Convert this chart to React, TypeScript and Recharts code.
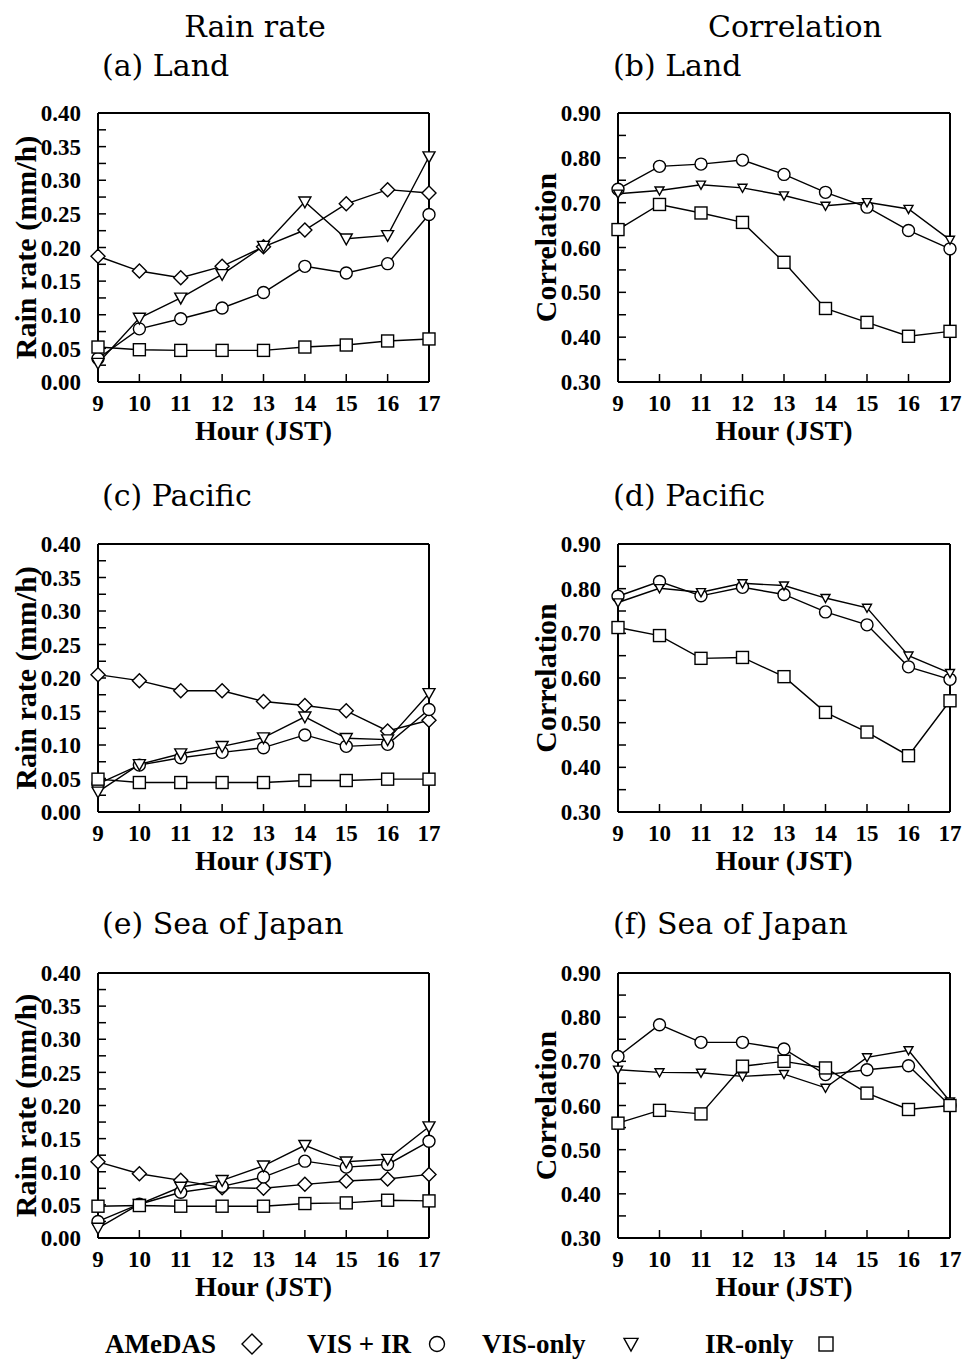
import { LineChart, Line, XAxis, YAxis, Label } from "recharts";

const HOURS = [9, 10, 11, 12, 13, 14, 15, 16, 17];
const RATE_TICKS = [0, 0.025, 0.05, 0.075, 0.1, 0.125, 0.15, 0.175, 0.2, 0.225, 0.25, 0.275, 0.3, 0.325, 0.35, 0.375, 0.4];
const CORR_TICKS = [0.3, 0.35, 0.4, 0.45, 0.5, 0.55, 0.6, 0.65, 0.7, 0.75, 0.8, 0.85, 0.9];

// (a) Land, rain rate (mm/h)
const LAND_RATE_AMEDAS = [0.187, 0.165, 0.155, 0.172, 0.201, 0.226, 0.265, 0.286, 0.281];
const LAND_RATE_VISIR = [0.035, 0.079, 0.094, 0.11, 0.133, 0.172, 0.162, 0.176, 0.249];
const LAND_RATE_VIS = [0.028, 0.095, 0.125, 0.16, 0.202, 0.268, 0.213, 0.218, 0.335];
const LAND_RATE_IR = [0.052, 0.048, 0.047, 0.047, 0.047, 0.052, 0.055, 0.061, 0.064];

// (b) Land, correlation
const LAND_CORR_VISIR = [0.73, 0.781, 0.786, 0.795, 0.763, 0.723, 0.69, 0.638, 0.597];
const LAND_CORR_VIS = [0.72, 0.727, 0.74, 0.733, 0.716, 0.693, 0.701, 0.686, 0.617];
const LAND_CORR_IR = [0.64, 0.696, 0.677, 0.656, 0.567, 0.464, 0.433, 0.402, 0.413];

// (c) Pacific, rain rate
const PAC_RATE_AMEDAS = [0.205, 0.196, 0.181, 0.181, 0.165, 0.159, 0.151, 0.121, 0.137];
const PAC_RATE_VISIR = [0.042, 0.07, 0.081, 0.089, 0.096, 0.115, 0.098, 0.101, 0.153];
const PAC_RATE_VIS = [0.03, 0.071, 0.087, 0.098, 0.111, 0.142, 0.11, 0.108, 0.177];
const PAC_RATE_IR = [0.049, 0.044, 0.044, 0.044, 0.044, 0.047, 0.047, 0.049, 0.049];

// (d) Pacific, correlation
const PAC_CORR_VISIR = [0.783, 0.816, 0.784, 0.803, 0.787, 0.748, 0.719, 0.625, 0.597];
const PAC_CORR_VIS = [0.769, 0.801, 0.792, 0.812, 0.807, 0.779, 0.757, 0.65, 0.611];
const PAC_CORR_IR = [0.713, 0.695, 0.644, 0.646, 0.603, 0.523, 0.479, 0.426, 0.549];

// (e) Sea of Japan, rain rate
const SOJ_RATE_AMEDAS = [0.115, 0.097, 0.087, 0.076, 0.075, 0.081, 0.086, 0.089, 0.096];
const SOJ_RATE_VISIR = [0.025, 0.051, 0.069, 0.078, 0.092, 0.116, 0.107, 0.111, 0.146];
const SOJ_RATE_VIS = [0.015, 0.051, 0.077, 0.087, 0.109, 0.14, 0.115, 0.119, 0.168];
const SOJ_RATE_IR = [0.048, 0.049, 0.048, 0.048, 0.048, 0.052, 0.053, 0.057, 0.056];

// (f) Sea of Japan, correlation
const SOJ_CORR_VISIR = [0.711, 0.783, 0.743, 0.743, 0.728, 0.67, 0.681, 0.69, 0.6];
const SOJ_CORR_VIS = [0.681, 0.675, 0.674, 0.666, 0.671, 0.64, 0.709, 0.725, 0.609];
const SOJ_CORR_IR = [0.56, 0.589, 0.581, 0.689, 0.7, 0.685, 0.628, 0.591, 0.6];

const LEGEND_LABELS = ["AMeDAS", "VIS + IR", "VIS-only", "IR-only"];

const TICK_FONT = "'Liberation Serif', 'Times New Roman', serif";
const TITLE_FONT = "'DejaVu Serif', serif";

type Shape = "diamond" | "circle" | "triangle" | "square";

const SHAPES: Record<string, Shape> = {
  amedas: "diamond",
  visir: "circle",
  vis: "triangle",
  ir: "square",
};

function marker(shape: Shape, cx: number, cy: number, s: number, key?: string) {
  const common = { fill: "#fff", stroke: "#000", strokeWidth: 1.4 };
  if (shape === "circle") return <circle key={key} cx={cx} cy={cy} r={s} {...common} />;
  if (shape === "square")
    return <rect key={key} x={cx - s} y={cy - s} width={2 * s} height={2 * s} {...common} />;
  if (shape === "diamond")
    return (
      <path
        key={key}
        d={`M${cx},${cy - s} L${cx + s},${cy} L${cx},${cy + s} L${cx - s},${cy} Z`}
        {...common}
      />
    );
  return (
    <path
      key={key}
      d={`M${cx - s},${cy - s * 0.8} L${cx + s},${cy - s * 0.8} L${cx},${cy + s} Z`}
      {...common}
    />
  );
}

function rows(cols: Record<string, number[]>) {
  return HOURS.map((h, i) => {
    const row: Record<string, number> = { hour: h };
    Object.keys(cols).forEach((k) => {
      row[k] = cols[k][i];
    });
    return row;
  });
}

interface PanelProps {
  left: number;
  plotTop: number;
  width: number;
  plotHeight: number;
  rightMargin: number;
  cols: Record<string, number[]>;
  kind: "rate" | "corr";
}

const PAD_TOP = 20;
const X_AXIS_H = 70;

function Panel({ left, plotTop, width, plotHeight, rightMargin, cols, kind }: PanelProps) {
  const data = rows(cols);
  const isRate = kind === "rate";
  const ticks = isRate ? RATE_TICKS : CORR_TICKS;
  const domain = isRate ? [0, 0.4] : [0.3, 0.9];
  const yLabel = isRate ? "Rain rate (mm/h)" : "Correlation";
  const fmt = (v: number) => {
    const step = isRate ? 50 : 100;
    return Math.round(v * 1000) % step === 0 ? v.toFixed(2) : "";
  };
  const tickStyle = { fill: "#000", fontSize: 23, fontFamily: TICK_FONT, fontWeight: "bold" };
  const axisLine = { stroke: "#000", strokeWidth: 2 };
  const tickLine = { stroke: "#000", strokeWidth: 1.5 };
  const height = PAD_TOP + plotHeight + X_AXIS_H;

  return (
    <div style={{ position: "absolute", left, top: plotTop - PAD_TOP }}>
      <LineChart
        width={width}
        height={height}
        data={data}
        margin={{ top: PAD_TOP - 1, right: rightMargin, bottom: 0, left: 0 }}
      >
        <XAxis
          dataKey="hour"
          type="number"
          domain={[9, 17]}
          ticks={HOURS}
          interval={0}
          height={X_AXIS_H}
          axisLine={axisLine}
          tickLine={tickLine}
          tickSize={-8}
          tickMargin={21}
          tick={tickStyle}
        >
          <Label
            content={(p: any) => {
              const vb = p.viewBox;
              return (
                <text
                  x={vb.x + vb.width / 2}
                  y={vb.y + 58}
                  textAnchor="middle"
                  fontFamily={TICK_FONT}
                  fontWeight="bold"
                  fontSize={28}
                  fill="#000"
                >
                  Hour (JST)
                </text>
              );
            }}
          />
        </XAxis>
        <XAxis
          xAxisId="top"
          orientation="top"
          dataKey="hour"
          type="number"
          domain={[9, 17]}
          ticks={HOURS}
          interval={0}
          height={1}
          axisLine={axisLine}
          tickLine={tickLine}
          tickSize={-8}
          tick={false}
        />
        <YAxis
          type="number"
          domain={domain}
          ticks={ticks}
          interval={0}
          width={98}
          axisLine={axisLine}
          tickLine={tickLine}
          tickSize={-8}
          tickMargin={25}
          tickFormatter={fmt}
          tick={tickStyle}
        >
          <Label
            content={(p: any) => {
              const vb = p.viewBox;
              const cx = vb.x + 25;
              const cy = vb.y + vb.height / 2;
              return (
                <text
                  x={cx}
                  y={cy}
                  transform={`rotate(-90 ${cx} ${cy})`}
                  textAnchor="middle"
                  dominantBaseline="central"
                  fontFamily={TICK_FONT}
                  fontWeight="bold"
                  fontSize={30}
                  fill="#000"
                >
                  {yLabel}
                </text>
              );
            }}
          />
        </YAxis>
        <YAxis
          yAxisId="right"
          orientation="right"
          type="number"
          domain={domain}
          ticks={ticks}
          interval={0}
          width={1}
          axisLine={axisLine}
          tickLine={tickLine}
          tickSize={-8}
          tick={false}
        />
        {Object.keys(cols).map((k) => (
          <Line
            key={k}
            dataKey={k}
            type="linear"
            stroke="#000"
            strokeWidth={1.4}
            isAnimationActive={false}
            activeDot={false}
            dot={(p: any) =>
              marker(
                SHAPES[k],
                p.cx,
                p.cy,
                k === "amedas" ? 7 : k === "vis" && !isRate ? 4.5 : 6,
                `${k}-${p.index}`
              )
            }
          />
        ))}
      </LineChart>
    </div>
  );
}

const ROWS = [
  { top: 113, h: 269 },
  { top: 544, h: 268 },
  { top: 973, h: 265 },
];

export default function App() {
  const legendX = [105, 307, 482, 705];
  const legendMarkX = [252, 437, 631, 826];
  const legendShapes: Shape[] = ["diamond", "circle", "triangle", "square"];
  return (
    <div style={{ position: "absolute", left: 0, top: 0, width: 964, height: 1363, background: "#fff" }}>
      <svg width={964} height={1363} style={{ position: "absolute", left: 0, top: 0 }}>
        <g fontFamily={TITLE_FONT} fontSize={30} fill="#000">
          <text x={255} y={37} textAnchor="middle">Rain rate</text>
          <text x={795} y={37} textAnchor="middle">Correlation</text>
          <text x={102} y={76}>(a) Land</text>
          <text x={613} y={76}>(b) Land</text>
          <text x={102} y={506}>(c) Pacific</text>
          <text x={613} y={506}>(d) Pacific</text>
          <text x={102} y={934}>(e) Sea of Japan</text>
          <text x={613} y={934}>(f) Sea of Japan</text>
        </g>
        <g fontFamily={TICK_FONT} fontSize={27} fontWeight="bold" fill="#000">
          {LEGEND_LABELS.map((l, i) => (
            <text key={l} x={legendX[i]} y={1353}>
              {l}
            </text>
          ))}
        </g>
        {legendShapes.map((s, i) =>
          marker(s, legendMarkX[i], 1344, s === "diamond" ? 10 : s === "circle" ? 7.5 : 7, `lg-${i}`)
        )}
      </svg>
      <Panel left={0} plotTop={ROWS[0].top} width={450} plotHeight={ROWS[0].h} rightMargin={20} kind="rate"
        cols={{ amedas: LAND_RATE_AMEDAS, visir: LAND_RATE_VISIR, vis: LAND_RATE_VIS, ir: LAND_RATE_IR }} />
      <Panel left={520} plotTop={ROWS[0].top} width={444} plotHeight={ROWS[0].h} rightMargin={13} kind="corr"
        cols={{ visir: LAND_CORR_VISIR, vis: LAND_CORR_VIS, ir: LAND_CORR_IR }} />
      <Panel left={0} plotTop={ROWS[1].top} width={450} plotHeight={ROWS[1].h} rightMargin={20} kind="rate"
        cols={{ amedas: PAC_RATE_AMEDAS, visir: PAC_RATE_VISIR, vis: PAC_RATE_VIS, ir: PAC_RATE_IR }} />
      <Panel left={520} plotTop={ROWS[1].top} width={444} plotHeight={ROWS[1].h} rightMargin={13} kind="corr"
        cols={{ visir: PAC_CORR_VISIR, vis: PAC_CORR_VIS, ir: PAC_CORR_IR }} />
      <Panel left={0} plotTop={ROWS[2].top} width={450} plotHeight={ROWS[2].h} rightMargin={20} kind="rate"
        cols={{ amedas: SOJ_RATE_AMEDAS, visir: SOJ_RATE_VISIR, vis: SOJ_RATE_VIS, ir: SOJ_RATE_IR }} />
      <Panel left={520} plotTop={ROWS[2].top} width={444} plotHeight={ROWS[2].h} rightMargin={13} kind="corr"
        cols={{ visir: SOJ_CORR_VISIR, vis: SOJ_CORR_VIS, ir: SOJ_CORR_IR }} />
    </div>
  );
}
